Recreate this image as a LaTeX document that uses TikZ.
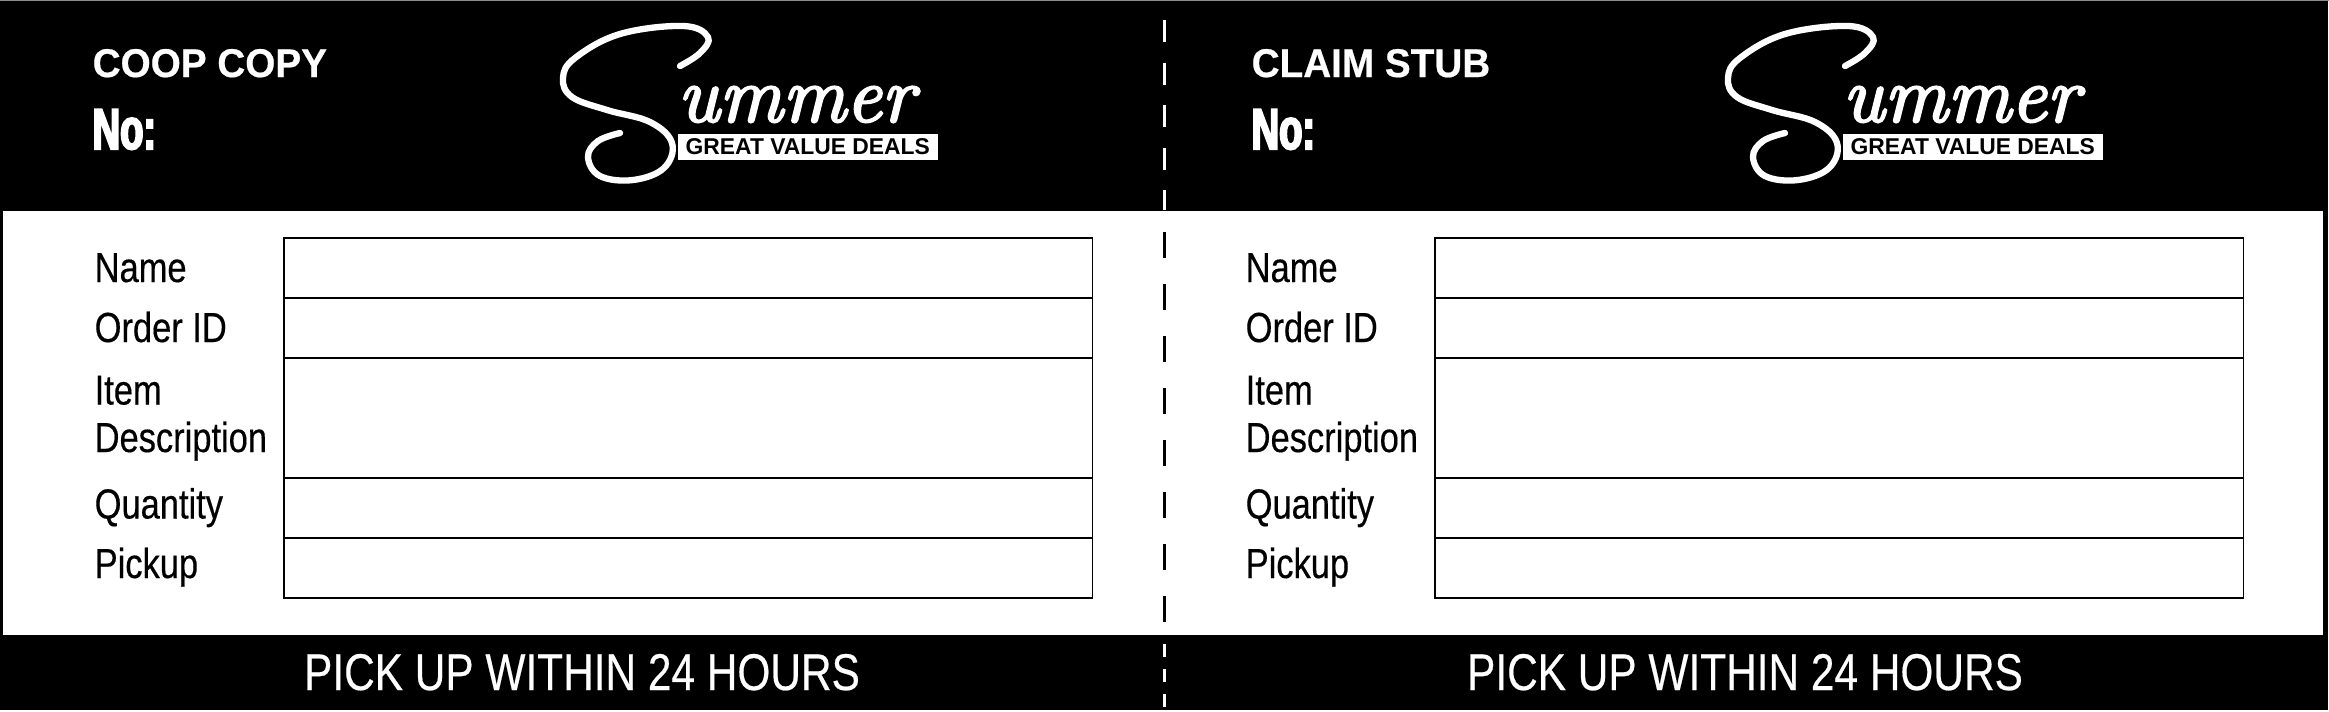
\documentclass[tikz,border=0pt]{standalone}
\usepackage{fontspec}
\usetikzlibrary{positioning}
\newfontfamily\narrowfont[FakeStretch=0.82,FakeBold=0.35]{Liberation Sans}
\newfontfamily\headfont{Liberation Sans}
\newfontfamily\titlefont[FakeStretch=0.965,BoldFeatures={FakeBold=0.5}]{Liberation Sans}
\newfontfamily\numfont[FakeStretch=0.66,BoldFeatures={FakeBold=3.5}]{Liberation Sans}
\newfontfamily\logofont[ItalicFeatures={FakeBold=3}]{Latin Modern Roman}
\begin{document}
\begin{tikzpicture}[x=0.01cm, y=-0.01cm]
	\tikzset{
	  RowStyle/.style = { draw, line width = 0.43pt, inner sep = 0pt, outer sep = 0pt,
	                      minimum width = 8.08cm, minimum height = 0.6cm },
	  FieldStyle/.style = { anchor = base west, inner sep = 0pt,
	                        font = \narrowfont\fontsize{11.95}{13.6}\selectfont },
	  TitleStyle/.style = { anchor = base west, inner sep = 0pt, text = white,
	                        font = \titlefont\bfseries\fontsize{11.4}{13}\selectfont },
	  NumStyle/.style = { anchor = base west, inner sep = 0pt, text = white,
	                      font = \numfont\bfseries\fontsize{16.4}{18}\selectfont },
	  FootStyle/.style = { anchor = base, inner sep = 0pt, text = white,
	                       font = \narrowfont\fontsize{14.7}{16}\selectfont },
	  TagStyle/.style = { fill = white, text = black, inner sep = 0pt, anchor = west,
	                      minimum width = 2.6cm, minimum height = 0.26cm,
	                      font = \headfont\bfseries\fontsize{6.5}{7}\selectfont },
	  ScriptStyle/.style = { anchor = base west, inner sep = 0pt, text = white,
	                         font = \logofont\itshape\fontsize{22.5}{24}\selectfont },
	  SwashStyle/.style = { draw = white, line width = 1.8pt, line cap = round, line join = round },
	  CutStyle/.style = { line width = 0.65pt }
	}
	\useasboundingbox (0,0) rectangle (2329,711);
%	\draw[help lines, step=1cm] (0,0) grid (2329,711);
	\fill[black!45] (0,0) rectangle (2329,1);
	\fill[black] (0,1) rectangle (2328,710);
	\fill[white] (3,210.5) rectangle (2323,634.5);
	\foreach \tag/\title/\tx/\rx/\lx/\fx in {a/COOP COPY/0/0/0/0, b/CLAIM STUB/1159/1151/1165/1163} {
	  \node[TitleStyle] (title\tag) at (92+\tx,77) {\title};
	  \node[NumStyle] (no\tag) at (92+\tx,149) {No:};
	  % logo
	  \node[TagStyle] (tag\tag) at (677+\lx,146.5) {GREAT VALUE DEALS};
	  \draw[SwashStyle] plot[smooth, tension = 0.65] coordinates {(680+\lx,66) (700+\lx,53)
	    (708+\lx,37) (683+\lx,26) (620+\lx,34) (575+\lx,58) (563+\lx,78) (572+\lx,97)
	    (607+\lx,110) (650+\lx,122) (672+\lx,143) (664+\lx,168) (633+\lx,180) (600+\lx,176)
	    (588+\lx,157) (598+\lx,141) (620+\lx,133)};
	  \node[ScriptStyle] (script\tag) at (677+\lx,121.5) {ummer};
	  % form rows
	  \node[RowStyle, anchor = north west] (name\tag) at (284+\rx,238) {};
	  \node[RowStyle, below = 0pt of name\tag] (order\tag) {};
	  \node[RowStyle, below = 0pt of order\tag, minimum height = 1.2cm] (item\tag) {};
	  \node[RowStyle, below = 0pt of item\tag] (qty\tag) {};
	  \node[RowStyle, below = 0pt of qty\tag] (pick\tag) {};
	  \node[FieldStyle] (lname\tag) at (94+\rx,282) {Name};
	  \node[FieldStyle] (lorder\tag) at (94+\rx,342) {Order ID};
	  \node[FieldStyle] (litem\tag) at (94+\rx,404.5) {Item};
	  \node[FieldStyle] (ldesc\tag) at (94+\rx,452) {Description};
	  \node[FieldStyle] (lqty\tag) at (94+\rx,518.5) {Quantity};
	  \node[FieldStyle] (lpick\tag) at (94+\rx,578) {Pickup};
	  \node[FootStyle] (foot\tag) at (582+\fx,690) {PICK UP WITHIN 24 HOURS};
	}
	% tear line
	\coordinate (cuta) at (1164.5,20);
	\coordinate (cutb) at (1164.5,210);
	\coordinate (cutc) at (1164.5,232);
	\coordinate (cutd) at (1164.5,634);
	\coordinate (cute) at (1164.5,644);
	\coordinate (cutf) at (1164.5,708);
	\draw[CutStyle, white, dash pattern = on 0.22cm off 0.205cm] (cuta) -- (cutb);
	\draw[CutStyle, black, dash pattern = on 0.26cm off 0.26cm] (cutc) -- (cutd);
	\draw[CutStyle, white, dash pattern = on 0.13cm off 0.12cm] (cute) -- (cutf);
\end{tikzpicture}
\end{document}
